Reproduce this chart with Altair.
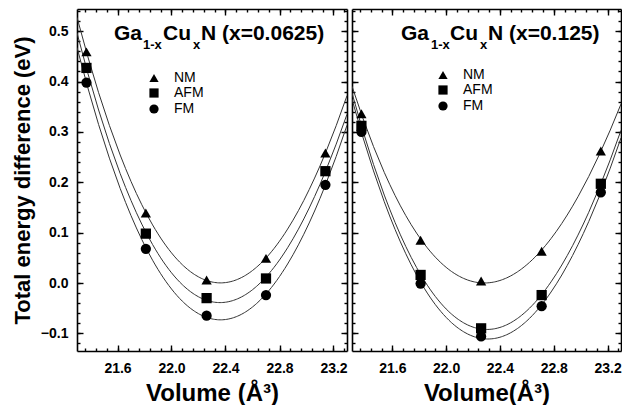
import altair as alt
import pandas as pd

# ---- data ----
states = ["NM", "AFM", "FM"]
shapes = ["triangle-up", "square", "circle"]

vol_a = [21.37, 21.81, 22.26, 22.70, 23.14]
nm_a = [0.459, 0.139, 0.006, 0.049, 0.258]
afm_a = [0.427, 0.098, -0.030, 0.009, 0.222]
fm_a = [0.398, 0.068, -0.065, -0.024, 0.195]

vol_b = [21.37, 21.81, 22.26, 22.71, 23.15]
nm_b = [0.336, 0.085, 0.004, 0.063, 0.262]
afm_b = [0.312, 0.016, -0.090, -0.024, 0.197]
fm_b = [0.300, -0.001, -0.106, -0.046, 0.180]

y_major = [-0.1, 0.0, 0.1, 0.2, 0.3, 0.4, 0.5]
y_minor = [round(-0.12 + 0.02 * i, 2) for i in range(34)]
x_major = [21.6, 22.0, 22.4, 22.8, 23.2]
x_minor = [round(21.36 + 0.08 * i, 2) for i in range(25)]

XDOM = [21.3, 23.3]
YDOM = [-0.135, 0.544]
FONT = "Liberation Sans"


def axis(orient, values, size, labels=False, title=None, domain=False,
         label_pad=0, title_pad=0, title_size=23):
    d = dict(orient=orient, values=values, tickSize={"expr": str(-size)},
             tickColor="black", tickWidth=1.4, grid=False,
             domain=domain, labels=labels)
    if domain:
        d.update(domainColor="black", domainWidth=1.6)
    if labels:
        d.update(labelFont=FONT, labelFontSize=14, labelFontWeight="bold",
                 labelColor="black", labelPadding=label_pad, format=".1f",
                 labelFlush=False, labelOverlap=False)
    if title:
        d.update(title=title, titleFont=FONT, titleFontSize=title_size,
                 titleFontWeight="bold", titleColor="black",
                 titlePadding=title_pad)
    else:
        d.update(title="")
    return alt.Axis(**d)


def panel(vols, nm, afm, fm, pieces, xtitle, show_ylabels, lx, ly):
    rows = []
    for s, vals in zip(states, [nm, afm, fm]):
        for v, e in zip(vols, vals):
            rows.append({"V": v, "E": e, "state": s})
    df = pd.DataFrame(rows)
    base = alt.Chart(df)
    xs = alt.Scale(domain=XDOM, nice=False, zero=False)
    ys = alt.Scale(domain=YDOM, nice=False, zero=False)

    if show_ylabels:
        left_major = axis("left", y_major, 6, labels=True, domain=True,
                          title="Total energy difference (eV)",
                          label_pad=15, title_pad=6, title_size=22)
    else:
        left_major = axis("left", y_major, 6, domain=True)

    line = base.transform_regression(
        "V", "E", groupby=["state"], method="poly", order=3, extent=XDOM
    ).mark_line(color="#333333", strokeWidth=1, clip=True).encode(
        x=alt.X("V:Q", scale=xs,
                axis=axis("bottom", x_major, 6, labels=True, domain=True,
                          title=xtitle, label_pad=16, title_pad=6,
                          title_size=24)),
        y=alt.Y("E:Q", scale=ys, axis=left_major),
        detail="state:N",
    )

    points = base.mark_point(filled=True, color="black", opacity=1).encode(
        x=alt.X("V:Q", scale=xs, axis=axis("bottom", x_minor, 3)),
        y=alt.Y("E:Q", scale=ys, axis=axis("left", y_minor, 3)),
        shape=alt.Shape(
            "state:N",
            scale=alt.Scale(domain=states, range=shapes),
            legend=alt.Legend(
                orient="none", legendX=lx, legendY=ly, title="",
                labelFont=FONT, labelFontSize=14, labelColor="black",
                symbolFillColor="black", symbolStrokeColor="black",
                symbolSize=85, labelOffset=13, rowPadding=0, padding=0,
            ),
        ),
        size=alt.value(105),
    )

    top_right_major = base.mark_point(opacity=0).encode(
        x=alt.X("V:Q", scale=xs, axis=axis("top", x_major, 6, domain=True)),
        y=alt.Y("E:Q", scale=ys, axis=axis("right", y_major, 6, domain=True)),
    )
    top_right_minor = base.mark_point(opacity=0).encode(
        x=alt.X("V:Q", scale=xs, axis=axis("top", x_minor, 3)),
        y=alt.Y("E:Q", scale=ys, axis=axis("right", y_minor, 3)),
    )

    texts = []
    for txt, px, py, fs in pieces:
        texts.append(
            alt.Chart(pd.DataFrame({"t": [txt]})).mark_text(
                font=FONT, fontWeight="bold", fontSize=fs, color="black",
                align="left", baseline="alphabetic",
            ).encode(x=alt.value(px), y=alt.value(py), text="t:N")
        )

    return alt.layer(line, points, top_right_major, top_right_minor, *texts).resolve_axis(
        x="independent", y="independent"
    )


pieces_a = [("Ga", 37, 31, 21), ("1-x", 66, 40, 13), ("Cu", 86, 31, 21),
            ("x", 116, 40, 13), ("N (x=0.0625)", 124, 31, 21)]
pieces_b = [("Ga", 49, 31, 21), ("1-x", 79, 40, 13), ("Cu", 98, 31, 21),
            ("x", 128, 40, 13), ("N (x=0.125)", 136, 31, 21)]

left = panel(vol_a, nm_a, afm_a, fm_a, pieces_a, "Volume (Å³)", True, 70, 62).properties(
    width=270, height=342)
right = panel(vol_b, nm_b, afm_b, fm_b, pieces_b, "Volume(Å³)", False, 84, 59).properties(
    width=269, height=342)

chart = alt.hconcat(left, right, spacing=3).resolve_legend(
    shape="independent"
).resolve_scale(shape="independent").properties(
    padding={"left": 3, "top": 0, "right": 0, "bottom": 0}
).configure_view(stroke=None)

chart.save("out.html", embed_options={"renderer": "svg", "actions": False})
